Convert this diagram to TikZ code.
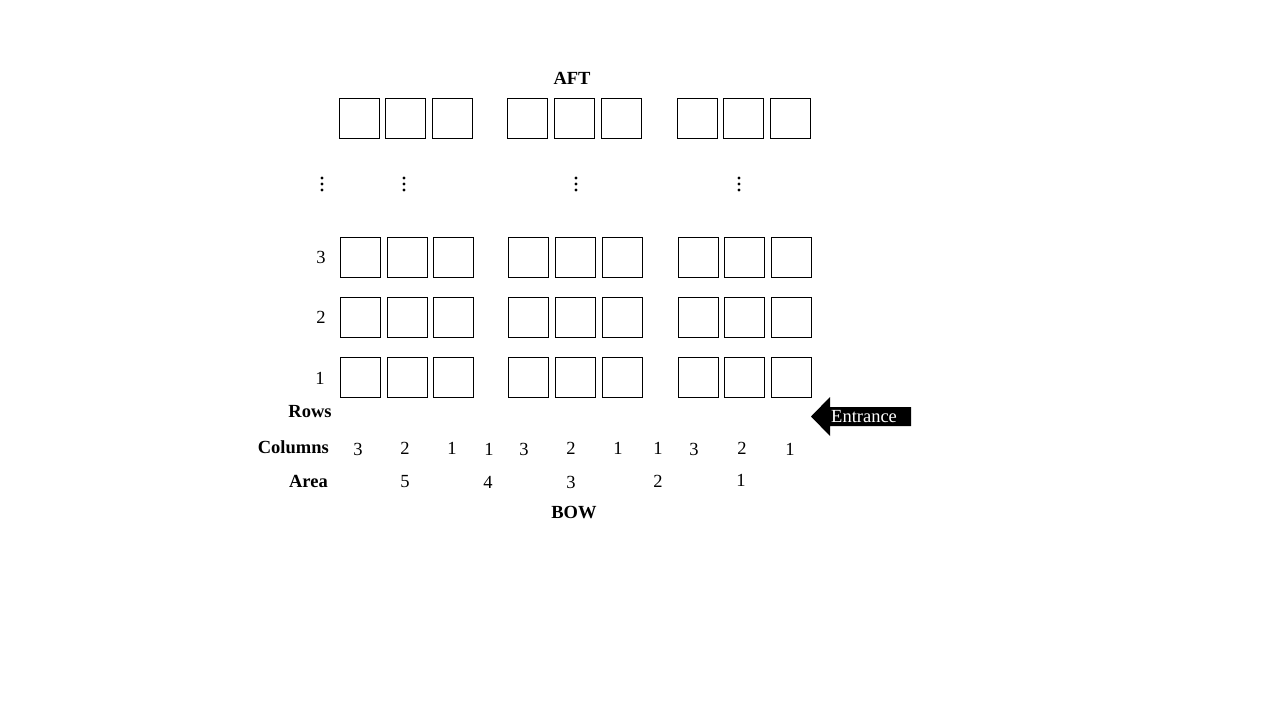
\documentclass[tikz,border=0pt]{standalone}
\usepackage{fontspec}
\setmainfont{Liberation Serif}
\begin{document}
\begin{tikzpicture}[x=1pt,y=-1pt,
  seat/.style={draw,line width=0.9pt,minimum size=39.5pt,inner sep=0pt,anchor=north west},
  lbl/.style={font=\fontsize{18.5}{21}\selectfont,inner sep=0pt},
  blbl/.style={font=\fontsize{18.5}{21}\selectfont\bfseries,inner sep=0pt}]
\useasboundingbox (0,0) rectangle (1280,720);
% top row
\foreach \x [count=\i] in {339,385,432,507,554,601,677,723,770}{
  \node[seat] (t\i) at (\x,98) {};
}
% rows 3,2,1
\foreach \r/\y in {3/237,2/297,1/357}{
  \foreach \x [count=\i] in {340,387,433,508,555,602,678,724,771}{
    \node[seat] (r\r c\i) at (\x,\y) {};
  }
}
% dots
\foreach \x in {322,404,576,739}{
  \foreach \y in {178,184,190}{
    \fill (\x,\y) circle (1.6);
  }
}
\node[blbl] (aft) at (572,78) {AFT};
\node[blbl] (bow) at (574,513) {BOW};
\node[lbl] (l3) at (321,257) {3};
\node[lbl] (l2) at (321,317) {2};
\node[lbl] (l1) at (320,378) {1};
\node[blbl] (rows) at (310,412) {Rows};
\node[blbl,anchor=east] (cols) at (329,447) {Columns};
\node[blbl,anchor=east] (area) at (328,481) {Area};
\foreach \x/\t/\y [count=\i] in {358/3/449,405/2/448,452/1/448,489/1/449,524/3/449,571/2/448,618/1/448,658/1/448,694/3/449,742/2/448,790/1/449}{
  \node[lbl] (c\i) at (\x,\y) {\t};
}
\foreach \x/\t/\y [count=\i] in {405/5/482,488/4/482,571/3/482,658/2/481,741/1/480}{
  \node[lbl] (a\i) at (\x,\y) {\t};
}
% entrance arrow
\fill (811,416.5) -- (830,397) -- (830,407) -- (911,407) -- (911,426) -- (830,426) -- (830,436) -- cycle;
\node[lbl,text=white,anchor=west] (ent) at (831,416.5) {Entrance};
\end{tikzpicture}
\end{document}
